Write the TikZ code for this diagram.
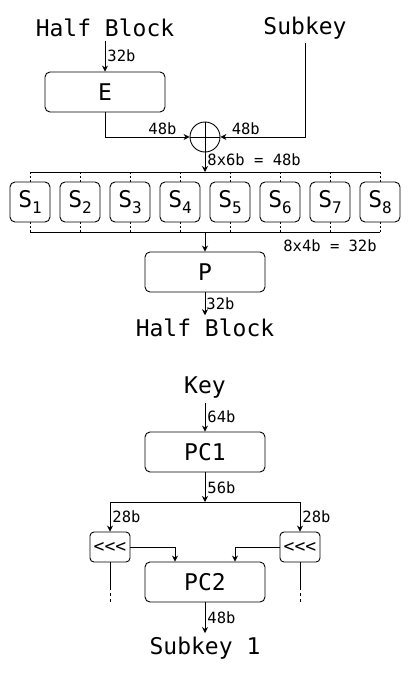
\documentclass[tikz,border=0pt]{standalone}
\usepackage{fontspec}
\setmainfont{DejaVu Sans Mono}
\usetikzlibrary{arrows.meta}

\newcommand\subidx[1]{\raisebox{-0.45ex}{\fontsize{16}{16}\selectfont #1}}

\tikzset{
  box/.style={draw,rounded corners=5pt,minimum width=120pt,minimum height=40pt,
              inner sep=0pt,font=\fontsize{23}{23}\selectfont},
  subst/.style={draw,rounded corners=5pt,minimum width=40pt,minimum height=40pt,
              inner sep=0pt,font=\fontsize{23}{23}\selectfont},
  rot/.style={draw,rounded corners=4pt,minimum width=40pt,minimum height=30pt,
              inner sep=0pt,font=\fontsize{18}{18}\selectfont},
  title/.style={font=\fontsize{23}{23}\selectfont},
  bits/.style={font=\fontsize{15.5}{15.5}\selectfont,inner sep=2pt},
  flow/.style={-{Stealth[length=6pt,width=6pt]}},
  tick/.style={dash pattern=on 2pt off 2pt},
  cont/.style={dash pattern=on 28pt off 3pt on 3pt off 3pt on 3pt off 3pt}
}

\begin{document}
\begin{tikzpicture}[x=1pt,y=-1pt,line width=0.9pt]
  \useasboundingbox (0,0) rectangle (411,674);

  % round function
  \node[title] (hb) at (105,28) {Half Block};
  \node[title] (sk) at (305,28) {Subkey};
  \node[box] (E) at (105,92) {E};
  \node[draw,circle,minimum size=30pt,inner sep=0pt] (xor) at (205,137) {};
  \draw (xor.north) -- (xor.south) (xor.west) -- (xor.east);

  \draw[flow] (hb) -- node[bits,right]{32b} (E);
  \draw[flow] (E.south) |- node[bits,above,pos=0.84]{48b} (xor.west);
  \draw[flow] (sk.south) |- node[bits,above,pos=0.85]{48b} (xor.east);

  \coordinate (bustop) at (205,172);
  \coordinate (busbot) at (205,232);
  \draw[flow] (xor.south) -- node[bits,right,pos=0.35]{8x6b = 48b} (bustop);

  \foreach \i in {1,...,8}
    \node[subst] (s\i) at ({30+50*(\i-1)},202) {S\subidx{\i}};
  \draw (s1.north |- bustop) -- (s8.north |- bustop);
  \draw (s1.south |- busbot) -- (s8.south |- busbot);
  \foreach \i in {1,...,8} {
    \draw[tick] (s\i.north |- bustop) -- (s\i.north);
    \draw[tick] (s\i.south) -- (s\i.south |- busbot);
  }

  \node[box] (P) at (205,272) {P};
  \node[bits] (sout) at (330,246) {8x4b = 32b};
  \draw[flow] (busbot) -- (P);
  \node[title] (hbout) at (205,328) {Half Block};
  \draw[flow] (P) -- node[bits,right,inner sep=1pt]{32b} (hbout);

  % key schedule
  \node[title] (key) at (205,388) {Key};
  \node[box] (pc1) at (205,452) {PC1};
  \coordinate (split) at (205,502);
  \node[rot] (rl) at (110,547) {<\kern0pt<\kern0pt<};
  \node[rot] (rr) at (300,547) {<\kern0pt<\kern0pt<};
  \node[box] (pc2) at (205,582) {PC2};
  \node[title] (sk1) at (205,648) {Subkey 1};

  \draw[flow] (key) -- node[bits,right]{64b} (pc1);
  \draw[flow] (pc1) -- node[bits,right]{56b} (split);
  \draw[flow] (split) -| node[bits,right,pos=0.75]{28b} (rl);
  \draw[flow] (split) -| node[bits,right,pos=0.75]{28b} (rr);
  \draw[flow] (rl.east) -| ([xshift=-30pt]pc2.north);
  \draw[flow] (rr.west) -| ([xshift=30pt]pc2.north);
  \draw[cont] (rl.south) -- ++(0,40);
  \draw[cont] (rr.south) -- ++(0,40);
  \draw[flow] (pc2) -- node[bits,right]{48b} (sk1);
\end{tikzpicture}
\end{document}
